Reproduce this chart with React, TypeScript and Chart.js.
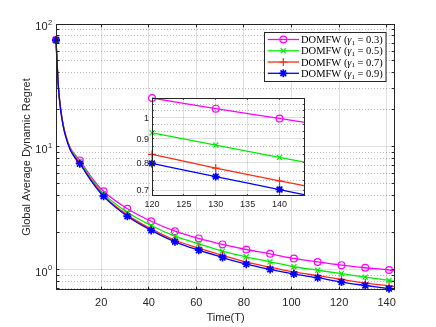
import React, { useEffect, useRef } from "react";
import { Chart, registerables } from "chart.js";
Chart.register(...registerables);

// ---------------- data ----------------
const T_MAIN = [1, 2, 3, 4, 5, 7, 9, 11, 16, 21, 31, 41, 51, 61, 71, 81, 91, 101, 111, 121, 131, 141, 143.5];
const MARKER_T = [1, 11, 21, 31, 41, 51, 61, 71, 81, 91, 101, 111, 121, 131, 141];
const REGRET_G03 = [74, 31, 20, 15.2, 12.6, 9.8, 8.6, 7.74, 5.6, 4.33, 3.12, 2.47, 2.05, 1.79, 1.6, 1.454, 1.342, 1.229, 1.151, 1.084, 1.032, 0.99, 0.975];
const REGRET_G05 = [74, 31, 20, 15.1, 12.5, 9.7, 8.45, 7.6, 5.45, 4.15, 2.92, 2.28, 1.866, 1.618, 1.409, 1.268, 1.155, 1.052, 0.985, 0.923, 0.866, 0.814, 0.8];
const REGRET_G07 = [74, 31, 20, 15, 12.4, 9.6, 8.3, 7.35, 5.3, 4.0, 2.77, 2.14, 1.73, 1.49, 1.3, 1.146, 1.044, 0.955, 0.89, 0.83, 0.775, 0.735, 0.722];
const REGRET_G09 = [74, 30.5, 19.7, 14.8, 12.2, 9.4, 8.1, 7.27, 5.2, 3.94, 2.71, 2.08, 1.68, 1.435, 1.252, 1.104, 1.0, 0.916, 0.856, 0.789, 0.74, 0.697, 0.685];

const T_INSET = [120, 130, 140, 144];
const INSET_MARKER_T = [120, 130, 140];
const INSET_G03 = [1.1, 1.044, 0.995, 0.976];
const INSET_G05 = [0.927, 0.873, 0.822, 0.803];
const INSET_G07 = [0.834, 0.78, 0.732, 0.715];
const INSET_G09 = [0.798, 0.748, 0.702, 0.684];

const GAMMAS = ["0.3", "0.5", "0.7", "0.9"];
const X_TICKS = [20, 40, 60, 80, 100, 120, 140];
const Y_MAJOR = [1, 10, 100];
const Y_EXP = ["0", "1", "2"];
const Y_MINOR = [0.7, 0.8, 0.9, 2, 3, 4, 5, 6, 7, 8, 9, 20, 30, 40, 50, 60, 70, 80, 90];
const INSET_X_TICKS = [120, 125, 130, 135, 140];
const INSET_Y_TICKS = [0.7, 0.8, 0.9, 1];
const INSET_Y_LABELS = ["0.7", "0.8", "0.9", "1"];
const INSET_Y_MINOR = [0.7333, 0.7667, 0.8333, 0.8667, 0.9333, 0.9667, 1.0333, 1.0667];

const X_TITLE = "Time(T)";
const Y_TITLE = "Global Average Dynamic Regret";

// ---------------- styles ----------------
const COLORS = ["#ff00ff", "#00ee00", "#ff2a12", "#0000ff"];
const STYLES = ["circle", "crossRot", "cross", "star"];
const RADII = [3.4, 3.6, 4, 4];
const AXIS = "#262626";
const SANS = "'Liberation Sans', Arial, sans-serif";
const SERIF = "'Liberation Serif', 'Times New Roman', serif";

function drawMarker(ctx: CanvasRenderingContext2D, style: string, x: number, y: number, r: number, color: string, lw: number) {
  ctx.save();
  ctx.strokeStyle = color;
  ctx.lineWidth = lw;
  ctx.setLineDash([]);
  ctx.beginPath();
  if (style === "circle") {
    ctx.arc(x, y, r, 0, Math.PI * 2);
  }
  if (style === "cross" || style === "star") {
    ctx.moveTo(x - r, y); ctx.lineTo(x + r, y);
    ctx.moveTo(x, y - r); ctx.lineTo(x, y + r);
  }
  if (style === "crossRot" || style === "star") {
    const d = r * Math.SQRT1_2;
    ctx.moveTo(x - d, y - d); ctx.lineTo(x + d, y + d);
    ctx.moveTo(x - d, y + d); ctx.lineTo(x + d, y - d);
  }
  ctx.stroke();
  ctx.restore();
}

function hline(ctx: CanvasRenderingContext2D, x1: number, x2: number, y: number) {
  ctx.beginPath(); ctx.moveTo(x1, y); ctx.lineTo(x2, y); ctx.stroke();
}
function vline(ctx: CanvasRenderingContext2D, x: number, y1: number, y2: number) {
  ctx.beginPath(); ctx.moveTo(x, y1); ctx.lineTo(x, y2); ctx.stroke();
}
const snap = (v: number) => Math.round(v - 0.5) + 0.5;

function makeDatasets(xs: number[], series: number[][], marks: number[]) {
  return series.map((vals, k) => ({
    label: "DOMFW (γ1 = " + GAMMAS[k] + ")",
    data: xs.map((t, i) => ({ x: t, y: vals[i] })),
    borderColor: COLORS[k],
    backgroundColor: COLORS[k],
    borderWidth: 1.3,
    pointStyle: STYLES[k],
    pointRadius: xs.map((t) => (marks.includes(t) ? RADII[k] : 0)),
    pointBorderColor: COLORS[k],
    pointBackgroundColor: "rgba(0,0,0,0)",
    pointBorderWidth: k === 3 ? 1.7 : 1.2,
    cubicInterpolationMode: "monotone" as const,
    clip: false as any,
    order: 4 - k,
  }));
}

export default function App() {
  const mainRef = useRef<HTMLCanvasElement | null>(null);
  const insetRef = useRef<HTMLCanvasElement | null>(null);

  useEffect(() => {
    if (!mainRef.current || !insetRef.current) return;

    const mainPlugin = {
      id: "mainAxes",
      beforeDatasetsDraw(chart: any) {
        const { ctx, chartArea: a, scales } = chart;
        const x = scales.x, y = scales.y;
        ctx.save();
        ctx.lineWidth = 1;
        ctx.strokeStyle = "rgba(38,38,38,0.32)";
        ctx.setLineDash([1, 2]);
        for (const v of Y_MINOR) hline(ctx, a.left, a.right, snap(y.getPixelForValue(v)));
        ctx.setLineDash([]);
        ctx.strokeStyle = "rgba(38,38,38,0.15)";
        for (const v of Y_MAJOR) hline(ctx, a.left, a.right, snap(y.getPixelForValue(v)));
        for (const v of X_TICKS) vline(ctx, snap(x.getPixelForValue(v)), a.top, a.bottom);
        ctx.restore();
      },
      afterDatasetsDraw(chart: any) {
        const { ctx, chartArea: a, scales } = chart;
        const x = scales.x, y = scales.y;
        ctx.save();
        ctx.strokeStyle = AXIS;
        ctx.lineWidth = 1;
        ctx.setLineDash([]);
        ctx.strokeRect(a.left + 0.5, a.top + 0.5, a.right - a.left - 1, a.bottom - a.top - 1);
        const tl = 3.4;
        for (const v of X_TICKS) {
          const px = snap(x.getPixelForValue(v));
          vline(ctx, px, a.bottom, a.bottom - tl);
          vline(ctx, px, a.top, a.top + tl);
        }
        for (const v of [...Y_MAJOR, ...Y_MINOR]) {
          const py = snap(y.getPixelForValue(v));
          hline(ctx, a.left, a.left + tl, py);
          hline(ctx, a.right, a.right - tl, py);
        }
        // tick labels
        ctx.fillStyle = AXIS;
        ctx.font = "11px " + SANS;
        ctx.textAlign = "center";
        ctx.textBaseline = "alphabetic";
        for (const v of X_TICKS) ctx.fillText(String(v), x.getPixelForValue(v), a.bottom + 16);
        Y_MAJOR.forEach((v, i) => {
          const py = y.getPixelForValue(v);
          ctx.font = "11px " + SANS;
          ctx.textAlign = "right";
          ctx.fillText("10", 47.5, py + 6.2);
          ctx.font = "7.5px " + SANS;
          ctx.textAlign = "left";
          ctx.fillText(Y_EXP[i], 48, py + 1);
        });
        // titles
        ctx.font = "11px " + SANS;
        ctx.textAlign = "center";
        ctx.fillText(X_TITLE, (a.left + a.right) / 2, 320.5);
        ctx.save();
        ctx.translate(29.5, (a.top + a.bottom) / 2);
        ctx.rotate(-Math.PI / 2);
        ctx.fillText(Y_TITLE, 0, 0);
        ctx.restore();
        // legend
        const bx = 264.5, by = 32.5, bw = 121.5, bh = 49;
        ctx.fillStyle = "#ffffff";
        ctx.fillRect(bx, by, bw, bh);
        ctx.strokeStyle = AXIS;
        ctx.strokeRect(bx, by, bw, bh);
        const rows = [39.5, 50.8, 62, 73.3];
        GAMMAS.forEach((g, k) => {
          const ry = rows[k];
          ctx.strokeStyle = COLORS[k];
          ctx.lineWidth = 1.3;
          hline(ctx, 267.7, 299, ry);
          drawMarker(ctx, STYLES[k], 283.3, ry, RADII[k], COLORS[k], k === 3 ? 1.7 : 1.2);
          ctx.fillStyle = "#000000";
          ctx.textAlign = "left";
          ctx.textBaseline = "alphabetic";
          let tx = 301;
          const base = ry + 3.6;
          ctx.font = "10.5px " + SERIF;
          ctx.fillText("DOMFW (", tx, base);
          tx += ctx.measureText("DOMFW (").width;
          ctx.font = "italic 10.5px " + SERIF;
          ctx.fillText("γ", tx, base);
          tx += ctx.measureText("γ").width;
          ctx.font = "7px " + SERIF;
          ctx.fillText("1", tx, base + 1.8);
          tx += ctx.measureText("1").width + 2.5;
          ctx.font = "10.5px " + SERIF;
          ctx.fillText("= " + g + ")", tx, base);
        });
        ctx.restore();
      },
    };

    const insetPlugin = {
      id: "insetAxes",
      beforeDatasetsDraw(chart: any) {
        const { ctx, chartArea: a, scales } = chart;
        const x = scales.x, y = scales.y;
        ctx.save();
        ctx.fillStyle = "#ffffff";
        ctx.fillRect(a.left, a.top, a.right - a.left, a.bottom - a.top);
        ctx.lineWidth = 1;
        ctx.strokeStyle = "rgba(38,38,38,0.32)";
        ctx.setLineDash([1, 2]);
        for (const v of INSET_Y_MINOR) hline(ctx, a.left, a.right, snap(y.getPixelForValue(v)));
        ctx.setLineDash([]);
        ctx.strokeStyle = "rgba(38,38,38,0.15)";
        for (const v of INSET_Y_TICKS) hline(ctx, a.left, a.right, snap(y.getPixelForValue(v)));
        for (const v of INSET_X_TICKS) vline(ctx, snap(x.getPixelForValue(v)), a.top, a.bottom);
        ctx.restore();
      },
      afterDatasetsDraw(chart: any) {
        const { ctx, chartArea: a, scales } = chart;
        const x = scales.x, y = scales.y;
        ctx.save();
        ctx.strokeStyle = AXIS;
        ctx.lineWidth = 1;
        ctx.strokeRect(a.left + 0.5, a.top + 0.5, a.right - a.left - 1, a.bottom - a.top - 1);
        const tl = 1.8;
        for (const v of INSET_X_TICKS) {
          const px = snap(x.getPixelForValue(v));
          vline(ctx, px, a.bottom, a.bottom - tl);
          vline(ctx, px, a.top, a.top + tl);
        }
        for (const v of [...INSET_Y_TICKS, ...INSET_Y_MINOR]) {
          const py = snap(y.getPixelForValue(v));
          hline(ctx, a.left, a.left + tl, py);
          hline(ctx, a.right, a.right - tl, py);
        }
        ctx.fillStyle = AXIS;
        ctx.font = "9px " + SANS;
        ctx.textBaseline = "alphabetic";
        ctx.textAlign = "center";
        for (const v of INSET_X_TICKS) ctx.fillText(String(v), x.getPixelForValue(v), a.bottom + 10.7);
        ctx.textAlign = "right";
        INSET_Y_TICKS.forEach((v, i) => {
          ctx.fillText(INSET_Y_LABELS[i], a.left - 3, y.getPixelForValue(v) + 3.2);
        });
        ctx.restore();
      },
    };

    const main = new Chart(mainRef.current, {
      type: "line",
      data: {
        datasets: makeDatasets(T_MAIN, [REGRET_G03, REGRET_G05, REGRET_G07, REGRET_G09], MARKER_T) as any,
      },
      options: {
        animation: false,
        responsive: false,
        devicePixelRatio: 1,
        layout: { padding: { left: 56, top: 24, right: 41, bottom: 37 } },
        scales: {
          x: { type: "linear", min: 1, max: 143.5, display: false },
          y: { type: "logarithmic", min: 0.68, max: 100, display: false },
        },
        plugins: { legend: { display: false }, tooltip: { enabled: false } },
        events: [],
      },
      plugins: [mainPlugin],
    });

    const inset = new Chart(insetRef.current, {
      type: "line",
      data: {
        datasets: makeDatasets(T_INSET, [INSET_G03, INSET_G05, INSET_G07, INSET_G09], INSET_MARKER_T) as any,
      },
      options: {
        animation: false,
        responsive: false,
        devicePixelRatio: 1,
        layout: { padding: { left: 40, top: 8, right: 7, bottom: 19 } },
        scales: {
          x: { type: "linear", min: 120, max: 144, display: false },
          y: { type: "logarithmic", min: 0.683, max: 1.1, display: false },
        },
        plugins: { legend: { display: false }, tooltip: { enabled: false } },
        events: [],
      },
      plugins: [insetPlugin],
    });

    return () => {
      main.destroy();
      inset.destroy();
    };
  }, []);

  return (
    <div style={{ position: "fixed", left: 0, top: 0, width: 436, height: 327, background: "#ffffff" }}>
      <canvas ref={mainRef} width={436} height={327} style={{ position: "absolute", left: 0, top: 0, width: 436, height: 327 }} />
      <canvas ref={insetRef} width={200} height={125} style={{ position: "absolute", left: 112, top: 90, width: 200, height: 125 }} />
    </div>
  );
}
